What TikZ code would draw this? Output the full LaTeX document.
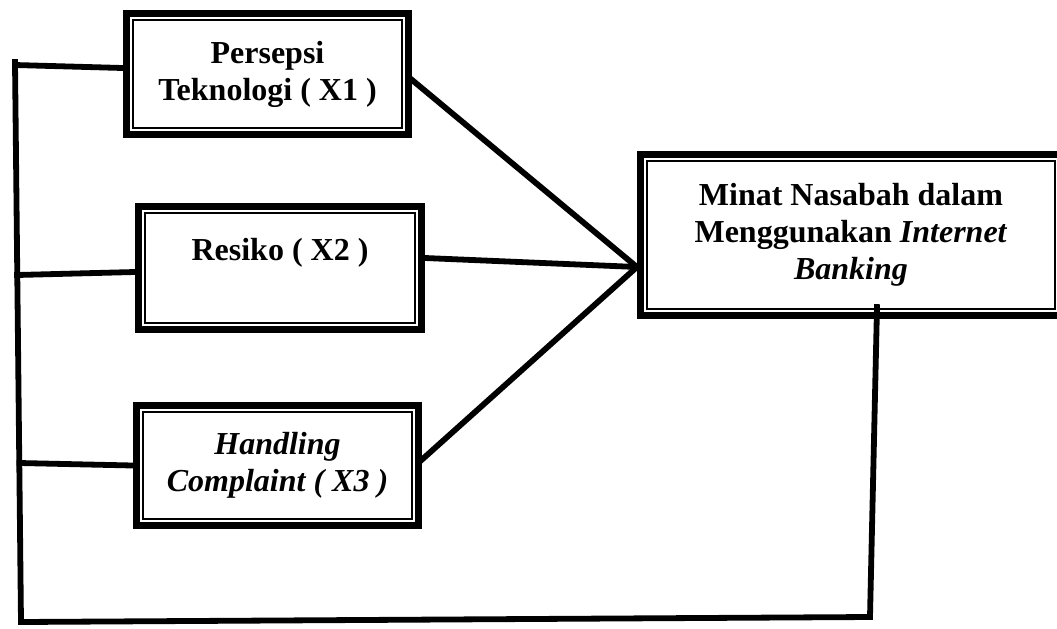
\documentclass[tikz,border=0pt]{standalone}
\usepackage{fontspec}
\setmainfont{Liberation Serif}

\begin{document}
\begin{tikzpicture}[x=0.5pt,y=-0.5pt,line width=2.9pt,line cap=rect,
            var node/.style={rectangle,draw,line width=3.6pt,inner sep=0pt,
            minimum width=141pt,minimum height=60.5pt,align=center,
            font=\bfseries\fontsize{16}{18.5}\selectfont,
            path picture={\draw[line width=0.8pt]
              ([shift={(3.2pt,-3.2pt)}]path picture bounding box.north west) rectangle
              ([shift={(-3.2pt,3.2pt)}]path picture bounding box.south east);}}]

        \useasboundingbox (0,0) rectangle (1057,628);

        % Define vertices
        \node[var node] (X1) at (267.5,74) {Persepsi\\Teknologi ( X1 )};
        \node[var node,minimum width=141.5pt,minimum height=61.5pt] (X2) at (280,268) {Resiko ( X2 )\\~};
        \node[var node,minimum height=60pt] (X3) at (277.5,465.5) {\textit{Handling}\\\textit{Complaint ( X3 )}};
        \node[var node,minimum width=210.5pt,minimum height=80.5pt] (Y) at (851,235) {Minat Nasabah dalam\\Menggunakan \textit{Internet}\\\textit{Banking}};

        \coordinate (tl) at (15,62);
        \coordinate (bl) at (21,622);
        \coordinate (br) at (870,617);
        \coordinate (l2) at (17,275);
        \coordinate (l3) at (19.5,463);
        \coordinate (hub) at ([yshift=-16pt]Y.west);

        % Draw edges
        \path
            (tl) edge (bl)
            (bl) edge (br)
            (br) edge ([shift={(13pt,6pt)}]Y.south)
            ([yshift=-1.5pt]tl) edge ([yshift=3pt]X1.west)
            (l2) edge ([yshift=-2pt]X2.west)
            (l3) edge (X3.west)
            ([yshift=-3pt]X1.east) edge (hub)
            ([yshift=5pt]X2.east) edge (hub)
            ([yshift=3pt]X3.east) edge (hub);

        \end{tikzpicture}
\end{document}
